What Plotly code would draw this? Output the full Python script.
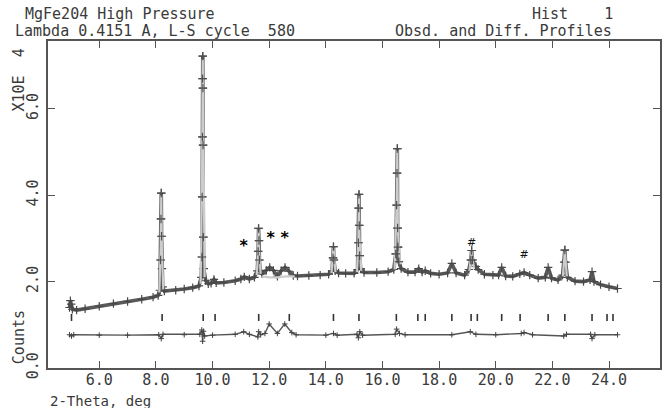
import plotly.graph_objects as go

# ---------------- data ----------------
# observed profile (2-theta in deg, counts in units of 10^4)
obs_two_theta = [4.95, 4.98, 5.01, 5.05, 5.2, 5.5, 6.0, 6.5, 7.0, 7.5, 7.9,
                 8.08, 8.14, 8.165, 8.18, 8.19, 8.20, 8.215, 8.24, 8.30,
                 8.7, 9.0, 9.3,
                 9.52, 9.60, 9.625, 9.635, 9.645, 9.65, 9.655, 9.66, 9.665, 9.675, 9.69, 9.76,
                 9.85, 9.95, 10.05, 10.13, 10.4, 10.8, 11.0, 11.12, 11.3,
                 11.48, 11.58, 11.61, 11.625, 11.64, 11.655, 11.68, 11.75,
                 11.9, 12.02, 12.15, 12.29, 12.42, 12.56, 12.7, 12.85, 13.0, 13.4, 13.8,
                 14.1, 14.22, 14.255, 14.27, 14.285, 14.33, 14.45,
                 14.7, 15.0,
                 15.12, 15.15, 15.16, 15.17, 15.18, 15.195, 15.23, 15.35,
                 15.8, 16.2,
                 16.4, 16.47, 16.50, 16.515, 16.525, 16.535, 16.55, 16.58, 16.66,
                 16.9, 17.15, 17.28, 17.4, 17.51, 17.7, 18.0, 18.3, 18.45, 18.6, 18.9,
                 19.05, 19.12, 19.15, 19.18, 19.3, 19.38,
                 19.6, 19.9, 20.1, 20.21, 20.35, 20.6, 20.85, 21.0, 21.2, 21.5, 21.75,
                 21.85, 21.97, 22.2,
                 22.36, 22.415, 22.44, 22.465, 22.53,
                 22.8, 23.1, 23.33, 23.40, 23.47, 23.7, 24.0, 24.3]
obs_counts = [1.40, 1.56, 1.48, 1.36, 1.34, 1.37, 1.43, 1.49, 1.54, 1.59, 1.64,
              1.68, 1.80, 2.50, 3.45, 4.05, 3.05, 2.30, 1.88, 1.78,
              1.80, 1.83, 1.86,
              1.90, 2.10, 2.57, 3.96, 5.35, 6.70, 7.22, 6.48, 5.16, 3.03, 2.30, 2.02,
              1.95, 1.96, 2.05, 1.97, 1.98, 2.02, 2.06, 2.11, 2.06,
              2.10, 2.25, 2.70, 3.23, 2.95, 2.50, 2.25, 2.18,
              2.26, 2.33, 2.26, 2.12, 2.25, 2.33, 2.24, 2.14, 2.13, 2.14, 2.15,
              2.17, 2.25, 2.55, 2.81, 2.50, 2.25, 2.20,
              2.19, 2.19,
              2.28, 2.90, 3.70, 4.02, 3.30, 2.60, 2.30, 2.21,
              2.21, 2.23,
              2.28, 2.64, 3.77, 4.51, 5.08, 3.24, 2.80, 2.46, 2.30,
              2.22, 2.22, 2.30, 2.22, 2.25, 2.19, 2.17, 2.20, 2.42, 2.20, 2.15,
              2.28, 2.50, 2.72, 2.50, 2.35, 2.28,
              2.17, 2.15, 2.15, 2.33, 2.13, 2.12, 2.18, 2.21, 2.15, 2.08, 2.10,
              2.33, 2.08, 2.04,
              2.15, 2.45, 2.73, 2.45, 2.10,
              2.01, 2.00, 2.04, 2.23, 2.00, 1.93, 1.88, 1.84]

# calculated profile, visible over the peaks and under the unfitted humps
calc_two_theta = [8.12, 8.17, 8.19, 8.21, 8.26, None,
                  9.58, 9.63, 9.655, 9.68, 9.72, None,
                  11.56, 11.61, 11.625, 11.645, 11.70, None,
                  11.75, 12.0, 12.3, 12.6, 12.9, None,
                  14.20, 14.27, 14.34, None,
                  15.10, 15.15, 15.17, 15.19, 15.25, None,
                  16.43, 16.50, 16.525, 16.545, 16.62, None,
                  19.07, 19.15, 19.23, None,
                  22.37, 22.44, 22.51]
calc_counts = [1.75, 2.80, 4.00, 2.80, 1.82, None,
               1.95, 4.40, 7.15, 4.40, 2.10, None,
               2.15, 2.70, 3.20, 2.70, 2.18, None,
               2.12, 2.10, 2.10, 2.12, 2.12, None,
               2.20, 2.78, 2.22, None,
               2.22, 3.00, 3.98, 3.00, 2.25, None,
               2.28, 3.80, 5.04, 3.20, 2.40, None,
               2.25, 2.70, 2.30, None,
               2.12, 2.70, 2.12]

# difference curve (offset)
diff_two_theta = [4.95, 5.02, 5.1, 6.0, 7.0, 8.1, 8.19, 8.25, 9.0, 9.55,
                  9.62, 9.65, 9.68, 9.72, 10.0, 10.8, 11.1, 11.3, 11.6, 11.63,
                  11.7, 11.85, 12.0, 12.29, 12.55, 12.8, 12.95, 14.0, 14.27, 14.4,
                  15.1, 15.15, 15.2, 15.3, 16.45, 16.5, 16.6, 16.8, 18.45, 19.1,
                  19.3, 20.0, 20.9, 21.0, 21.3, 22.4, 22.5, 23.35, 23.4, 23.5,
                  24.3]
diff_counts = [0.77, 0.74, 0.77, 0.76, 0.76, 0.77, 0.68, 0.78, 0.77, 0.78,
               0.88, 0.62, 0.85, 0.74, 0.76, 0.78, 0.84, 0.78, 0.72, 0.84,
               0.77, 0.80, 1.02, 0.80, 1.02, 0.82, 0.77, 0.76, 0.80, 0.76,
               0.78, 0.70, 0.84, 0.76, 0.78, 0.90, 0.80, 0.77, 0.77, 0.84,
               0.78, 0.77, 0.80, 0.82, 0.77, 0.74, 0.78, 0.78, 0.68, 0.77,
               0.77]

# reflection positions
refl_two_theta = [5.02, 8.22, 9.67, 10.09, 11.63, 12.71, 14.27, 15.17, 16.49, 17.25,
                  17.51, 18.45, 19.13, 19.35, 20.21, 20.86, 21.85, 22.44, 23.40, 23.93,
                  24.14]
refl_level = 1.17

# impurity markers
star_two_theta = [11.1, 12.05, 12.55]
star_counts = [2.80, 2.99, 2.99]
hash_two_theta = [19.15, 21.0]
hash_counts = [2.88, 2.60]

x_ticks = [6, 8, 10, 12, 14, 16, 18, 20, 22, 24]
x_tick_text = ["6.0", "8.0", "10.0", "12.0", "14.0", "16.0", "18.0", "20.0", "22.0", "24.0"]
y_ticks = [0, 2, 4, 6]
y_tick_text = ["0.0", "2.0", "4.0", "6.0"]

# ---------------- figure ----------------
FONT = "DejaVu Sans Mono"
TXT = "#3a3a3a"
AX = "#555555"

fig = go.Figure()

fig.add_trace(go.Scatter(
    x=obs_two_theta, y=obs_counts, mode="lines+markers",
    line=dict(color="#5a5a5a", width=3.6),
    marker=dict(symbol="cross-thin", size=6, line=dict(color="#484848", width=1.2)),
    hoverinfo="skip"))

fig.add_trace(go.Scatter(
    x=calc_two_theta, y=calc_counts, mode="lines",
    line=dict(color="#cccccc", width=2.2), connectgaps=False, hoverinfo="skip"))

peak_pts = [(v, c) for v, c in zip(obs_two_theta, obs_counts) if c > 2.45]
fig.add_trace(go.Scatter(
    x=[p[0] for p in peak_pts], y=[p[1] for p in peak_pts], mode="markers",
    marker=dict(symbol="cross-thin", size=6, line=dict(color="#505050", width=1.2)),
    hoverinfo="skip"))

fig.add_trace(go.Scatter(
    x=diff_two_theta, y=diff_counts, mode="lines+markers",
    line=dict(color="#555555", width=1.4),
    marker=dict(symbol="cross-thin", size=4, line=dict(color="#444444", width=1)),
    hoverinfo="skip"))

fig.add_trace(go.Scatter(
    x=refl_two_theta, y=[refl_level] * len(refl_two_theta), mode="markers",
    marker=dict(symbol="line-ns", size=5, line=dict(color="#333333", width=1.6)),
    hoverinfo="skip"))

fig.add_trace(go.Scatter(
    x=star_two_theta, y=star_counts, mode="text", text=["*"] * len(star_two_theta),
    textfont=dict(family="DejaVu Sans", size=16, color="#000000", weight="bold"),
    textposition="middle center", hoverinfo="skip"))

fig.add_trace(go.Scatter(
    x=hash_two_theta, y=hash_counts, mode="text", text=["#"] * len(hash_two_theta),
    textfont=dict(family="DejaVu Sans", size=11, color="#111111"),
    textposition="middle center", hoverinfo="skip"))

axis_common = dict(showline=True, mirror="ticks", linecolor=AX, linewidth=1.5,
                   ticks="inside", ticklen=7, tickwidth=1.3, tickcolor=AX,
                   showgrid=False, zeroline=False,
                   tickfont=dict(family=FONT, size=15, color=TXT))

fig.update_layout(
    width=667, height=408,
    margin=dict(l=48, r=5, t=41, b=40),
    paper_bgcolor="white", plot_bgcolor="white",
    showlegend=False,
    xaxis=dict(range=[4.19, 25.8], tickvals=x_ticks, ticktext=x_tick_text,
               ticklabelstandoff=-3, **axis_common),
    yaxis=dict(range=[0, 7.57], tickvals=y_ticks, ticktext=y_tick_text,
               tickangle=-90, ticklabelstandoff=2, **axis_common),
)

NB = "\u00a0"
ann_font = dict(family=FONT, size=15, color=TXT)
annotations = [
    dict(text="MgFe204 High Pressure", x=-0.041, y=1.083, xanchor="left", yanchor="middle"),
    dict(text="Lambda 0.4151 A, L-S cycle" + NB * 2 + "580", x=-0.057, y=1.032,
         xanchor="left", yanchor="middle"),
    dict(text="Hist" + NB * 4 + "1", x=0.927, y=1.083, xanchor="right", yanchor="middle"),
    dict(text="Obsd. and Diff. Profiles", x=0.925, y=1.032, xanchor="right", yanchor="middle"),
    dict(text="2-Theta, deg", x=0.0, y=-0.1, xanchor="left", yanchor="middle",
         font=dict(family=FONT, size=14, color=TXT)),
    dict(text="X10E" + NB * 2 + "4", x=-0.047, y=0.88, xanchor="center", yanchor="middle",
         textangle=-90),
    dict(text="Counts", x=-0.047, y=0.095, xanchor="center", yanchor="middle", textangle=-90),
]
for a in annotations:
    a.update(xref="paper", yref="paper", showarrow=False)
    a.setdefault("font", ann_font)
fig.update_layout(annotations=annotations)

fig.write_html("out.html", config={"displayModeBar": False},
               post_script="document.body.style.margin='0';document.body.style.padding='0';")
